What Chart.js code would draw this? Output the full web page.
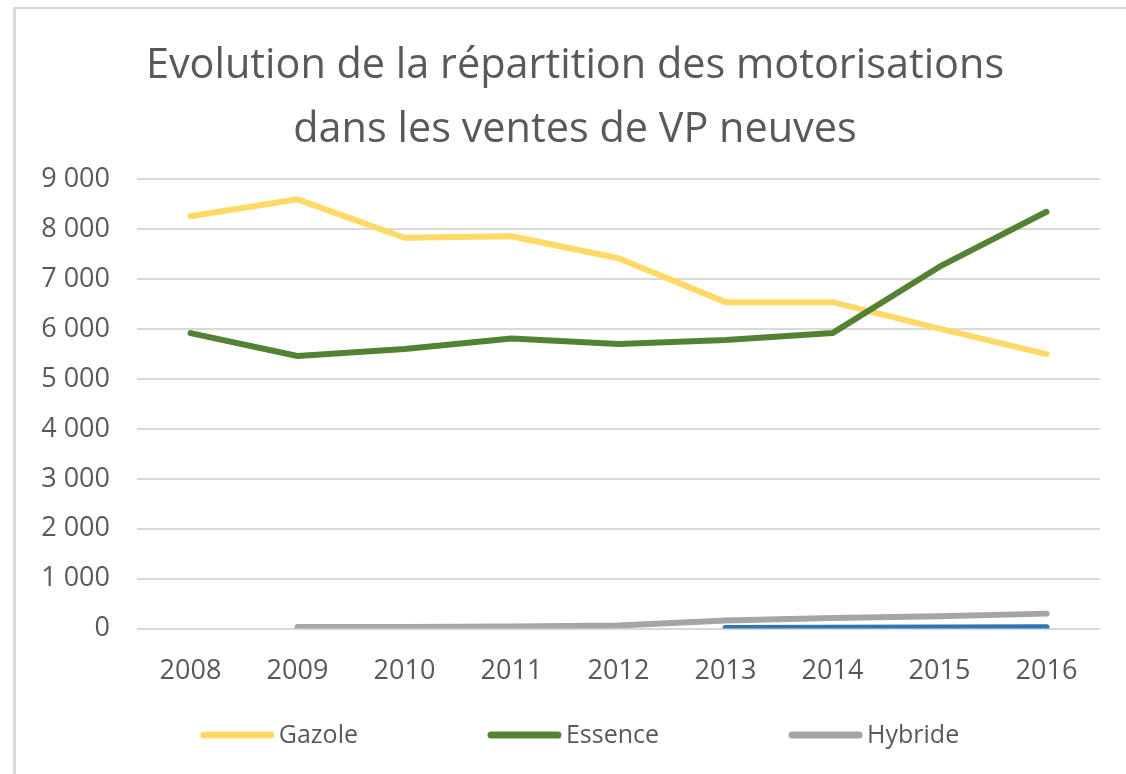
<!DOCTYPE html>
<html>
<head>
<meta charset="utf-8">
<script src="https://cdn.jsdelivr.net/npm/chart.js@4.4.1/dist/chart.umd.min.js"></script>
<style>
  html, body { margin: 0; padding: 0; background: #ffffff; overflow: hidden; }
  #wrap { position: relative; width: 1126px; height: 774px; }
  #frame { position: absolute; left: 13px; top: 7px; width: 1200px; height: 900px;
           border-left: 3px solid #D9D9D9; border-top: 2px solid #D9D9D9; pointer-events: none; }
  canvas { position: absolute; left: 0; top: 0; }
</style>
</head>
<body>
<div id="wrap">
  <canvas id="c" width="1126" height="774"></canvas>
  <div id="frame"></div>
</div>
<script>
const titleLines = ['Evolution de la répartition des motorisations', 'dans les ventes de VP neuves'];
const years = ['2008', '2009', '2010', '2011', '2012', '2013', '2014', '2015', '2016'];
const gazole = [8260, 8600, 7830, 7860, 7420, 6540, 6540, 6010, 5500];
const essence = [5920, 5460, 5600, 5810, 5700, 5780, 5920, 7250, 8350];
const hybride = [null, 30, 30, 40, 60, 160, 210, 245, 300];
const electrique = [null, null, null, null, null, 12, 15, 20, 25];
const seriesNames = ['Gazole', 'Essence', 'Hybride', 'Electrique'];
const legendNames = ['Gazole', 'Essence', 'Hybride'];
const yTicks = [0, 1000, 2000, 3000, 4000, 5000, 6000, 7000, 8000, 9000];

const FONT = '"Open Sans", "DejaVu Sans", sans-serif';
const TEXT = '#595959';
const colors = ['#FFD966', '#548235', '#A5A5A5', '#2E75B6'];
const seriesData = [gazole, essence, hybride, electrique];

function fmt(v) { return String(v).replace(/\B(?=(\d{3})+(?!\d))/g, ' '); }

const titleShift = {
  id: 'titleShift',
  afterLayout(chart) {
    if (chart.titleBlock) { chart.titleBlock.left += 50; }
  }
};

const legendPlugin = {
  id: 'bottomLegend',
  afterDraw(chart) {
    const ctx = chart.ctx;
    ctx.save();
    ctx.font = '25px ' + FONT;
    ctx.textBaseline = 'middle';
    ctx.textAlign = 'left';
    const lineW = 73, gapText = 5, gapItem = 130;
    const items = legendNames.map(n => {
      const i = seriesNames.indexOf(n);
      return { text: n, color: colors[i], w: lineW + gapText + ctx.measureText(n).width };
    });
    const total = items.reduce((s, it) => s + it.w, 0) + gapItem * (items.length - 1);
    let x = 580 - total / 2;
    const y = 735;
    items.forEach(it => {
      ctx.strokeStyle = it.color;
      ctx.lineWidth = 7;
      ctx.lineCap = 'round';
      ctx.beginPath();
      ctx.moveTo(x + 3, y);
      ctx.lineTo(x + lineW - 3, y);
      ctx.stroke();
      ctx.fillStyle = TEXT;
      ctx.fillText(it.text, x + lineW + gapText, y + 1);
      x += it.w + gapItem;
    });
    ctx.restore();
  }
};

const datasets = seriesNames.map((name, i) => ({
  label: name,
  data: seriesData[i],
  borderColor: colors[i],
  backgroundColor: colors[i],
  borderWidth: 6,
  borderCapStyle: 'round',
  borderJoinStyle: 'round',
  pointRadius: 0,
  pointHoverRadius: 0,
  tension: 0,
  fill: false,
  spanGaps: false,
  order: seriesNames.length - i
}));

new Chart(document.getElementById('c'), {
  type: 'line',
  data: { labels: years, datasets },
  plugins: [titleShift, legendPlugin],
  options: {
    responsive: false,
    animation: false,
    events: [],
    layout: { padding: { left: 0, right: 26, top: 0, bottom: 59 } },
    plugins: {
      legend: { display: false },
      tooltip: { enabled: false },
      title: {
        display: true,
        text: titleLines,
        color: TEXT,
        font: { family: FONT, size: 41.4, weight: 'normal', lineHeight: 1.55 },
        padding: { top: 34, bottom: 17 }
      }
    },
    scales: {
      x: {
        offset: true,
        grid: { display: false, drawTicks: false },
        border: { display: false },
        ticks: { color: TEXT, font: { family: FONT, size: 27 }, padding: 27, maxRotation: 0, autoSkip: false }
      },
      y: {
        min: 0,
        max: 9000,
        afterBuildTicks(scale) { scale.ticks = yTicks.map(v => ({ value: v })); },
        afterFit(scale) { scale.width = 137; },
        grid: { color: '#D9D9D9', lineWidth: 2, drawTicks: false },
        border: { display: false },
        ticks: { color: TEXT, font: { family: FONT, size: 27 }, padding: 27, callback: v => fmt(v) }
      }
    }
  }
});
</script>
</body>
</html>
